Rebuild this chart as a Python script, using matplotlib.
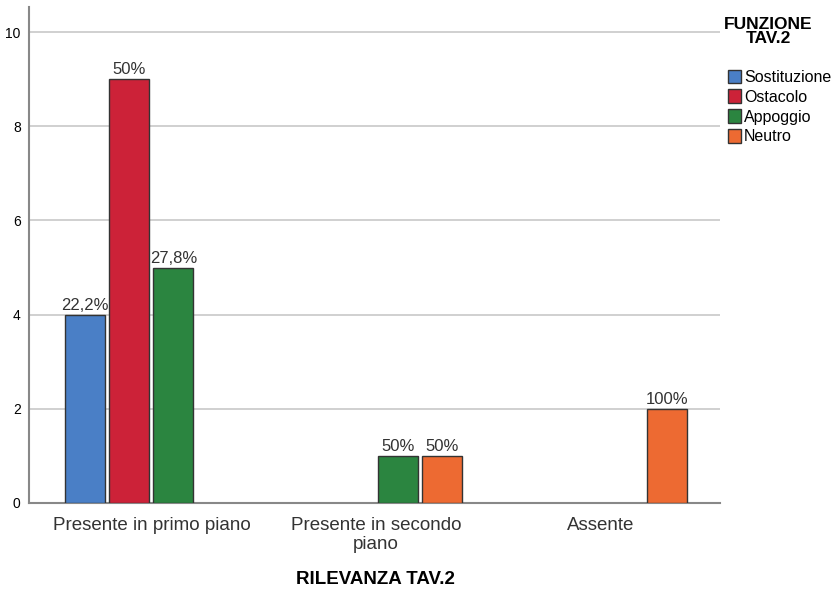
import matplotlib
matplotlib.use('Agg')
import matplotlib.pyplot as plt
import numpy as np

categories = ['Presente in primo piano', 'Presente in secondo\npiano', 'Assente']
series = ['Sostituzione', 'Ostacolo', 'Appoggio', 'Neutro']
sostituzione = [4, 0, 0]
ostacolo = [9, 0, 0]
appoggio = [5, 1, 0]
neutro = [0, 1, 2]
labels = [['22,2%', '', ''], ['50%', '', ''], ['27,8%', '50%', ''], ['', '50%', '100%']]
colors = ['#4a7fc6', '#cc2238', '#2b8540', '#ed6a32']

plt.rcParams['font.family'] = ['Liberation Sans', 'DejaVu Sans']

fig = plt.figure(figsize=(8.37, 5.90), dpi=100)
ax = fig.add_axes([0.0346, 0.1475, 0.8254, 0.8405])

x = np.arange(len(categories))
slot = 0.196
width = 0.178
values = [sostituzione, ostacolo, appoggio, neutro]
for i, (name, vals, col) in enumerate(zip(series, values, colors)):
    pos = x + (i - 1.5) * slot
    v = np.array(vals, dtype=float)
    m = v > 0
    ax.bar(pos[m], v[m], width, color=col, edgecolor='#333333', linewidth=1.0,
           label=name, zorder=3)
    for p, val, lab in zip(pos, vals, labels[i]):
        if val > 0:
            ax.text(p, val + 0.04, lab, ha='center', va='bottom', fontsize=12,
                    color='#333333', zorder=4)

ax.set_xlim(-0.545, 2.53)
ax.set_ylim(0, 10.53)
ax.set_yticks([0, 2, 4, 6, 8, 10])
ax.set_xticks(x)
ax.set_xticklabels(categories, fontsize=13.5, color='#333333', linespacing=1.15)
ax.tick_params(axis='y', labelsize=10, length=0, pad=6)
ax.tick_params(axis='x', length=0, pad=10)
ax.grid(axis='y', color='#c8c8c8', linewidth=1.2, zorder=0)
for s in ['top', 'right']:
    ax.spines[s].set_visible(False)
ax.spines['left'].set_color('#888888')
ax.spines['bottom'].set_color('#888888')
ax.spines['left'].set_linewidth(1.5)
ax.spines['bottom'].set_linewidth(1.5)

fig.text(0.448, 0.017, 'RILEVANZA TAV.2', ha='center', va='center',
         fontsize=13.5, fontweight='bold')

leg = fig.legend(loc='upper left', bbox_to_anchor=(0.862, 0.893), frameon=False,
                 fontsize=11.5, handlelength=0.85, handleheight=0.95,
                 handletextpad=0.15, labelspacing=0.28, borderaxespad=0)
fig.text(0.918, 0.972, 'FUNZIONE\nTAV.2', ha='center', va='top',
         fontsize=12.5, fontweight='bold', linespacing=0.95)

plt.savefig('out.png', dpi=100)
